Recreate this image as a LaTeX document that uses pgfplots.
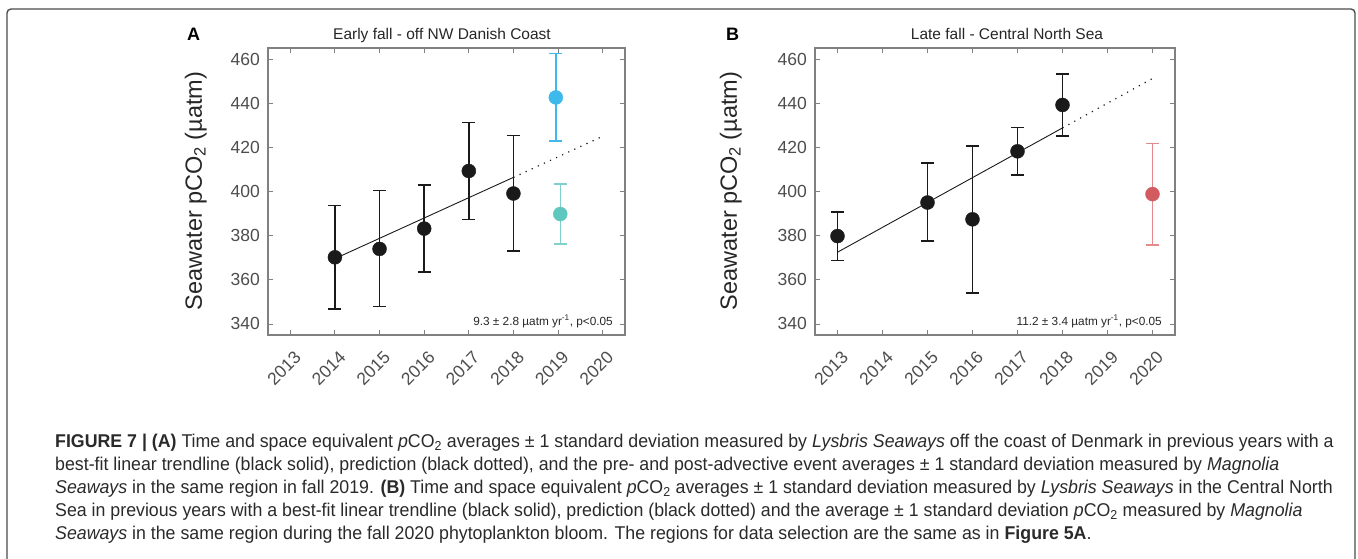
\documentclass[border=0pt]{standalone}
\usepackage{pgfplots}
\usepackage{pgfplotstable}
\pgfplotsset{compat=1.18}
\usepackage{fontspec}
\setmainfont{Liberation Sans}
\newfontfamily\capfont[FakeStretch=0.96]{Liberation Sans}
\definecolor{dotblack}{HTML}{1A1A1A}
\definecolor{frame}{HTML}{808080}
\definecolor{ticktext}{HTML}{4D4D4D}
\definecolor{ptblue}{HTML}{3DB9EC}
\definecolor{ptteal}{HTML}{5EC8BF}
\definecolor{barteal}{HTML}{7FD2CB}
\definecolor{ptred}{HTML}{D25B60}
\definecolor{barred}{HTML}{E4898C}
\definecolor{captext}{HTML}{2A2A2A}

\pgfplotstableread{
x y ep em
2014 370.2 23.5 23.4
2015 374.0 26.5 26.2
2016 383.2 19.8 19.7
2017 409.3 22.0 21.9
2018 399.1 26.3 26.0
}\dataA
\pgfplotstableread{
x y ep em
2018.95 442.6 19.8 19.7
}\dataAblue
\pgfplotstableread{
x y ep em
2019.05 389.8 13.5 13.6
}\dataAteal
\pgfplotstableread{
x y ep em
2013 379.8 11.0 11.1
2015 395.0 17.9 17.4
2016 387.4 33.2 33.4
2017 418.2 10.8 10.7
2018 439.2 14.0 14.1
}\dataB
\pgfplotstableread{
x y ep em
2020 398.8 23.0 23.0
}\dataBred

\pgfplotsset{
  panel/.style={
    anchor=south west, scale only axis,
    width=357pt, height=287pt,
    xmin=2012.5, xmax=2020.5, ymin=335, ymax=465,
    xtick={2013,2014,2015,2016,2017,2018,2019,2020},
    xticklabels={2013,2014,2015,2016,2017,2018,2019,2020},
    ytick={340,360,380,400,420,440,460},
    yticklabels={340,360,380,400,420,440,460},
    tick pos=both, tick align=inside, major tick length=5pt,
    axis line style={draw=frame, line width=1.3pt},
    every tick/.style={draw=frame, line width=0.9pt},
    tick label style={font=\fontsize{17.5}{20}\selectfont, text=ticktext},
    xticklabel style={xshift=7.6pt, yshift=-19.4pt, rotate=45, anchor=east, inner sep=0pt},
    yticklabel style={inner sep=0pt, xshift=-8pt},
    clip=false,
  },
  errs/.style={color=#1, mark=*, mark size=6pt, only marks,
    error bars/.cd, y dir=both, y explicit,
    error bar style={draw=#1, line width=1.5pt, solid},
    error mark options={rotate=90, mark size=6.5pt, line width=1.5pt, draw=#1}},
  dots/.style={only marks, mark=*, mark size=7pt, color=#1, mark options={fill=#1, draw=#1}},
  trend/.style={dotblack, line width=0.9pt},
  pred/.style={dotblack, line width=1.2pt, dash pattern=on 1.2pt off 5.5pt},
}

\begin{document}
\begin{tikzpicture}
\useasboundingbox (0pt,0pt) rectangle (1358pt,558pt);
\draw[draw=black!70, line width=1.4pt, rounded corners=4pt] (7pt,-20pt) rectangle (1355pt,549pt);

% ---------- Panel A ----------
\begin{axis}[panel, at={(268pt,223pt)}]
\addplot[errs=dotblack] table[x=x, y=y, y error plus=ep, y error minus=em] {\dataA};
\addplot[trend] coordinates {(2014,369.6) (2018,406.4)};
\addplot[pred] coordinates {(2018,406.4) (2020,425.0)};
\addplot[dots=dotblack] table[x=x, y=y] {\dataA};
\addplot[errs=ptblue] table[x=x, y=y, y error plus=ep, y error minus=em] {\dataAblue};
\addplot[dots=ptblue] table[x=x, y=y] {\dataAblue};
\addplot[errs=barteal] table[x=x, y=y, y error plus=ep, y error minus=em] {\dataAteal};
\addplot[dots=ptteal] table[x=x, y=y] {\dataAteal};
\end{axis}

% ---------- Panel B ----------
\begin{axis}[panel, at={(815pt,223pt)}, width=360pt]
\addplot[errs=dotblack] table[x=x, y=y, y error plus=ep, y error minus=em] {\dataB};
\addplot[trend] coordinates {(2013,372.5) (2018,428.8)};
\addplot[pred] coordinates {(2018,428.8) (2020,451.2)};
\addplot[dots=dotblack] table[x=x, y=y] {\dataB};
\addplot[errs=barred] table[x=x, y=y, y error plus=ep, y error minus=em] {\dataBred};
\addplot[dots=ptred] table[x=x, y=y] {\dataBred};
\end{axis}

% ---------- labels ----------
\node[anchor=base west, inner sep=0pt, font=\bfseries\fontsize{18}{20}\selectfont] at (187pt,517pt) {A};
\node[anchor=base west, inner sep=0pt, font=\bfseries\fontsize{18}{20}\selectfont] at (726pt,517pt) {B};
\node[anchor=base, inner sep=0pt, font=\fontsize{15.5}{18}\selectfont, text=black!85] at (442pt,518pt) {Early fall - off NW Danish Coast};
\node[anchor=base, inner sep=0pt, font=\fontsize{15.5}{18}\selectfont, text=black!85] at (1007pt,518pt) {Late fall - Central North Sea};
\node[rotate=90, anchor=south, inner sep=0pt, font=\fontsize{23.5}{26}\selectfont, text=black!85] at (207pt,367pt) {Seawater pCO\textsubscript{2} (µatm)};
\node[rotate=90, anchor=south, inner sep=0pt, font=\fontsize{23.5}{26}\selectfont, text=black!85] at (742pt,367pt) {Seawater pCO\textsubscript{2} (µatm)};
\node[anchor=base east, inner sep=0pt, font=\fontsize{11.8}{13}\selectfont, text=black!85] at (613pt,233pt) {9.3 ± 2.8 µatm yr\textsuperscript{-1}, p<0.05};
\node[anchor=base east, inner sep=0pt, font=\fontsize{11.8}{13}\selectfont, text=black!85] at (1162pt,233pt) {11.2 ± 3.4 µatm yr\textsuperscript{-1}, p<0.05};

% ---------- caption ----------
\begin{scope}[every node/.style={anchor=base west, inner sep=0pt, text=captext, font=\capfont\fontsize{18.5}{20}\selectfont}]
\node at (55pt,111pt) {\textbf{FIGURE 7 | (A)} Time and space equivalent \textit{p}CO\textsubscript{2} averages ± 1 standard deviation measured by \textit{Lysbris Seaways} off the coast of Denmark in previous years with a};
\node at (55pt,88pt) {best-fit linear trendline (black solid), prediction (black dotted), and the pre- and post-advective event averages ± 1 standard deviation measured by \textit{Magnolia}};
\node at (55pt,65pt) {\textit{Seaways} in the same region in fall 2019. \textbf{(B)} Time and space equivalent \textit{p}CO\textsubscript{2} averages ± 1 standard deviation measured by \textit{Lysbris Seaways} in the Central North};
\node at (55pt,42pt) {Sea in previous years with a best-fit linear trendline (black solid), prediction (black dotted) and the average ± 1 standard deviation \textit{p}CO\textsubscript{2} measured by \textit{Magnolia}};
\node at (55pt,19pt) {\textit{Seaways} in the same region during the fall 2020 phytoplankton bloom. The regions for data selection are the same as in \textbf{Figure 5A}.};
\end{scope}
\end{tikzpicture}
\end{document}
